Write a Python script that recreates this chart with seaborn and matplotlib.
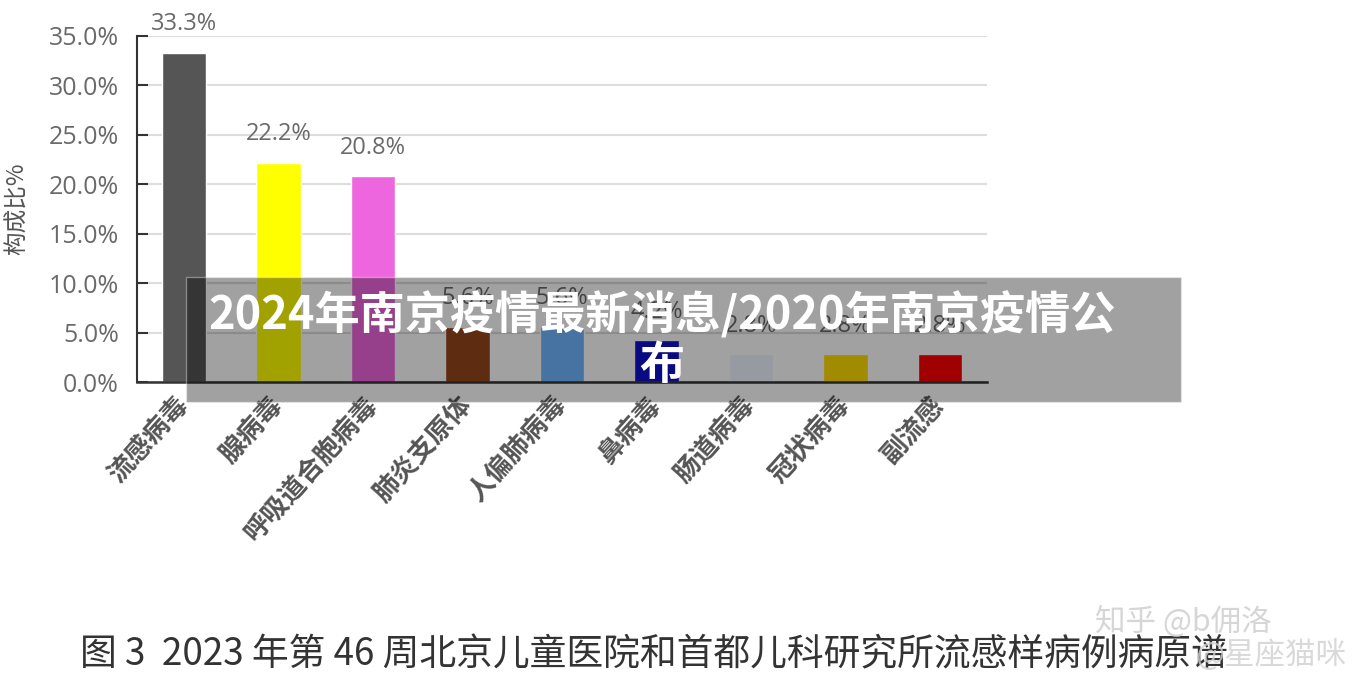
import matplotlib
matplotlib.use("Agg")
import matplotlib.pyplot as plt
import seaborn as sns
import pandas as pd
from matplotlib.patches import Rectangle

# data
categories = ["流感病毒", "腺病毒", "呼吸道合胞病毒", "肺炎支原体", "人偏肺病毒",
              "鼻病毒", "肠道病毒", "冠状病毒", "副流感"]
shares = [33.3, 22.2, 20.8, 5.6, 5.6, 4.2, 2.8, 2.8, 2.8]
# colours before the dark banner is laid over the lower part of the chart
bar_colors = ["#555555", "#ffff00", "#ee66dd", "#96461a", "#6fb6ff",
              "#1010d0", "#eef4ff", "#ffdc00", "#ff0000"]
y_ticks = [0, 5, 10, 15, 20, 25, 30, 35]

overlay_title = "2024年南京疫情最新消息/2020年南京疫情公\n布"
caption = "图 3  2023 年第 46 周北京儿童医院和首都儿科研究所流感样病例病原谱"

sns.set_style("white")
plt.rcParams["font.family"] = ["Open Sans", "Noto Sans CJK SC", "DejaVu Sans"]
cjk = ["Noto Sans CJK SC", "DejaVu Sans"]

df = pd.DataFrame({"病原": categories, "构成比": shares})

fig = plt.figure(figsize=(13.68, 6.79), dpi=100)
ax = fig.add_axes([0.1001, 0.4374, 0.6214, 0.5096])

sns.barplot(data=df, x="病原", y="构成比", hue="病原", palette=bar_colors,
            width=0.47, legend=False, ax=ax, saturation=1)

ax.set_ylim(0, 35)
ax.set_xlim(-0.5, len(categories) - 0.5)
ax.set_yticks(y_ticks)
ax.set_yticklabels([f"{t:.1f}%" for t in y_ticks], fontsize=18, color="#6a6a6a")
ax.yaxis.grid(True, color="#dddddd", linewidth=1.5)
ax.set_axisbelow(True)
for side in ["top", "right"]:
    ax.spines[side].set_visible(False)
ax.spines["left"].set_color("#333333")
ax.spines["bottom"].set_color("#333333")
ax.spines["left"].set_linewidth(1.5)
ax.spines["bottom"].set_linewidth(1.8)
ax.tick_params(axis="y", left=True, direction="in", length=8, width=1.5,
               color="#333333", pad=13)
ax.tick_params(axis="x", bottom=False, pad=10)

ax.set_xticks(range(len(categories)))
ax.set_xticklabels(categories, rotation=48, ha="right", va="center",
                   rotation_mode="anchor", fontsize=19, color="#555555",
                   fontweight="bold", family=cjk)
ax.set_xlabel("")
ax.set_ylabel("构成比%", fontsize=17, color="#555555", family=cjk)
ax.yaxis.set_label_coords(-0.127, 0.5)

# value labels above the bars
for i, v in enumerate(shares):
    ax.annotate(f"{v:.1f}%", (i, v), xytext=(0, 12), textcoords="offset points",
                ha="center", va="bottom", fontsize=17, color="#6a6a6a")

# semi-transparent title banner on top
fig.patches.append(Rectangle((186 / 1368, 1 - 402 / 679), (1181 - 186) / 1368,
                             (402 - 277) / 679, transform=fig.transFigure,
                             facecolor="black", alpha=0.37, zorder=5))
fig.text(662 / 1368, 1 - 341 / 679, overlay_title, ha="center", va="center",
         fontsize=32.5, fontweight="bold", color="white", linespacing=1.1,
         family=cjk, zorder=6)

# figure caption under the chart
fig.text(80 / 1368, 1 - 655 / 679, caption, ha="left", va="center",
         fontsize=26.5, color="#333333", family=cjk)

# watermarks
fig.text(1095 / 1368, 1 - 622 / 679, "知乎 @b佣洛", ha="left", va="center",
         fontsize=22, color="#cccccc", alpha=0.8, family=cjk)
fig.text(1195 / 1368, 1 - 655 / 679, "@星座猫咪", ha="left", va="center",
         fontsize=22, color="#d0d0d0", alpha=0.8, family=cjk)

plt.savefig("out.png", dpi=100)
